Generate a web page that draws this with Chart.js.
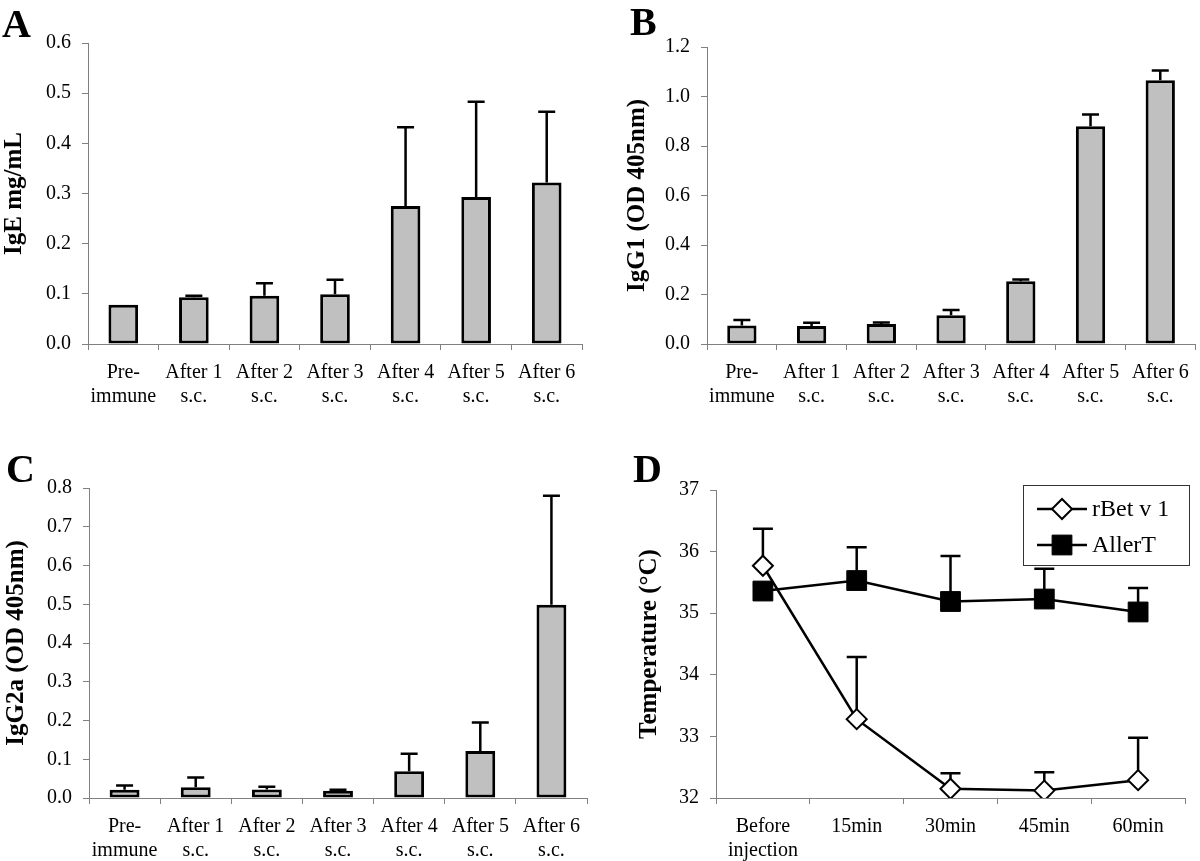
<!DOCTYPE html>
<html><head><meta charset="utf-8">
<script src="https://cdn.jsdelivr.net/npm/chart.js@4.4.1/dist/chart.umd.min.js"></script>
<style>
html,body{margin:0;padding:0;background:#fff}
body{width:1200px;height:861px;position:relative;overflow:hidden;font-family:'Liberation Serif','Times New Roman',serif}
canvas{position:absolute}
.lbl{position:absolute;font-weight:bold;font-size:40px;line-height:40px;color:#000;font-family:'Liberation Serif','Times New Roman',serif}
</style></head><body>
<canvas id="cA" width="600" height="430" style="left:0;top:0"></canvas>
<canvas id="cB" width="600" height="430" style="left:600px;top:0"></canvas>
<canvas id="cC" width="600" height="431" style="left:0;top:430px"></canvas>
<canvas id="cD" width="600" height="431" style="left:600px;top:430px"></canvas>
<div class="lbl" style="left:2px;top:4px">A</div>
<div class="lbl" style="left:630px;top:2px">B</div>
<div class="lbl" style="left:6px;top:449px">C</div>
<div class="lbl" style="left:633px;top:449px">D</div>
<script>
// ---- data ----
const immunizationLabels = [['Pre-','immune'],['After 1','s.c.'],['After 2','s.c.'],['After 3','s.c.'],['After 4','s.c.'],['After 5','s.c.'],['After 6','s.c.']];
const igeValues  = [0.078, 0.093, 0.096, 0.099, 0.275, 0.293, 0.322];
const igeErrors  = [0.000, 0.003, 0.025, 0.029, 0.157, 0.190, 0.141];
const igg1Values = [0.075, 0.073, 0.081, 0.116, 0.254, 0.880, 1.066];
const igg1Errors = [0.022, 0.013, 0.006, 0.021, 0.007, 0.047, 0.039];
const igg2aValues = [0.021, 0.028, 0.022, 0.019, 0.069, 0.121, 0.499];
const igg2aErrors = [0.011, 0.025, 0.007, 0.002, 0.045, 0.074, 0.281];
const timeLabels = [['Before','injection'],'15min','30min','45min','60min'];
const rbetValues  = [35.77, 33.28, 32.15, 32.12, 32.29];
const rbetErrors  = [0.60, 1.01, 0.25, 0.30, 0.69];
const allertValues = [35.36, 35.53, 35.19, 35.23, 35.02];
const allertErrors = [0.10, 0.54, 0.74, 0.49, 0.39];
const seriesNames = ['rBet v 1', 'AllerT'];

const FAMILY = "'Liberation Serif','Times New Roman',serif";
const tickFont = {family: FAMILY, size: 20};
const titleFont = {family: FAMILY, size: 25, weight: 'bold'};
const AXIS = '#808080';

const errorBars = {
  id: 'errorBars',
  beforeDatasetsDraw(chart, args, opts) {
    const ctx = chart.ctx, ys = chart.scales.y;
    ctx.save();
    ctx.strokeStyle = '#000';
    ctx.lineWidth = 2.5;
    chart.data.datasets.forEach((ds, di) => {
      if (!ds.errors) return;
      const meta = chart.getDatasetMeta(di);
      ds.data.forEach((v, i) => {
        const e = ds.errors[i];
        if (!e) return;
        const x = meta.data[i].x;
        const y0 = ys.getPixelForValue(v), y1 = ys.getPixelForValue(v + e);
        const c = opts.cap / 2;
        ctx.beginPath();
        ctx.moveTo(x, y0); ctx.lineTo(x, y1);
        ctx.moveTo(x - c, y1); ctx.lineTo(x + c, y1);
        ctx.stroke();
      });
    });
    ctx.restore();
  }
};

function axisCommon() {
  return {
    grid: {display: true, drawOnChartArea: false, drawTicks: true, tickLength: 6, color: AXIS, lineWidth: 1},
    border: {display: true, color: AXIS, width: 1},
  };
}

function barChart(id, values, errors, yMax, step, title, g) {
  const xa = axisCommon(), ya = axisCommon();
  xa.grid.offset = true;
  return new Chart(document.getElementById(id), {
    type: 'bar',
    data: {labels: immunizationLabels, datasets: [{
      data: values, errors: errors,
      backgroundColor: '#c0c0c0', borderColor: '#000', borderWidth: 3, borderSkipped: false,
      barPercentage: 0.42, categoryPercentage: 1
    }]},
    options: {
      responsive: false, animation: false, devicePixelRatio: 1,
      layout: {padding: {left: 0, right: g.r, top: g.t, bottom: 0}},
      plugins: {legend: {display: false}, tooltip: {enabled: false}, errorBars: {cap: 17}},
      scales: {
        x: Object.assign(xa, {
          ticks: {color: '#000', font: tickFont, padding: 11, autoSkip: false, maxRotation: 0, minRotation: 0},
          afterFit(s) { s.height = g.xh; }
        }),
        y: Object.assign(ya, {
          min: 0, max: yMax,
          ticks: {color: '#000', font: tickFont, padding: 11, stepSize: step, callback: v => Number(v).toFixed(1)},
          title: {display: true, text: title, color: '#000', font: titleFont, padding: {top: g.tp, bottom: 0}},
          afterFit(s) { s.width = g.yw; }
        })
      }
    },
    plugins: [errorBars]
  });
}

barChart('cA', igeValues, igeErrors, 0.6, 0.1, 'IgE mg/mL', {r: 18, t: 43, xh: 86, yw: 88, tp: 0});
barChart('cB', igg1Values, igg1Errors, 1.2, 0.2, 'IgG1 (OD 405nm)', {r: 2, t: 47, xh: 86, yw: 107, tp: 23});
barChart('cC', igg2aValues, igg2aErrors, 0.8, 0.1, 'IgG2a (OD 405nm)', {r: 13, t: 58, xh: 63, yw: 89, tp: 2});

const boxLegend = {
  id: 'boxLegend',
  afterDraw(chart, args, o) {
    const ctx = chart.ctx;
    ctx.save();
    ctx.strokeStyle = '#333'; ctx.lineWidth = 1;
    ctx.strokeRect(o.x + 0.5, o.y + 0.5, o.w, o.h);
    chart.data.datasets.forEach((ds, i) => {
      const cy = o.y + o.row0 + i * o.rowGap;
      ctx.strokeStyle = '#000'; ctx.lineWidth = 2.5;
      ctx.beginPath(); ctx.moveTo(o.x + o.l0, cy); ctx.lineTo(o.x + o.l1, cy); ctx.stroke();
      ctx.fillStyle = ds.pointBackgroundColor; ctx.strokeStyle = '#000'; ctx.lineWidth = ds.pointBorderWidth;
      Chart.helpers.drawPoint(ctx, {pointStyle: ds.pointStyle, radius: ds.pointRadius, rotation: 0, borderWidth: ds.pointBorderWidth}, o.x + (o.l0 + o.l1) / 2, cy);
      ctx.fillStyle = '#000';
      ctx.font = "24px " + FAMILY;
      ctx.textBaseline = 'middle'; ctx.textAlign = 'left';
      ctx.fillText(ds.label, o.x + o.tx, cy + 1);
    });
    ctx.restore();
  }
};

(function () {
  const xa = axisCommon(), ya = axisCommon();
  xa.grid.offset = true;
  new Chart(document.getElementById('cD'), {
    type: 'line',
    data: {labels: timeLabels, datasets: [
      {label: seriesNames[0], data: rbetValues, errors: rbetErrors, borderColor: '#000', borderWidth: 2.5, tension: 0,
       pointStyle: 'rectRot', pointRadius: 10, pointBackgroundColor: '#fff', pointBorderColor: '#000', pointBorderWidth: 2},
      {label: seriesNames[1], data: allertValues, errors: allertErrors, borderColor: '#000', borderWidth: 2.5, tension: 0,
       pointStyle: 'rect', pointRadius: 14, pointBackgroundColor: '#000', pointBorderColor: '#000', pointBorderWidth: 1}
    ]},
    options: {
      responsive: false, animation: false, devicePixelRatio: 1,
      layout: {padding: {left: 0, right: 9, top: 60, bottom: 0}},
      plugins: {legend: {display: false}, tooltip: {enabled: false}, errorBars: {cap: 20},
        boxLegend: {x: 423, y: 55, w: 166, h: 80, row0: 24, rowGap: 36, l0: 14, l1: 64, tx: 69}},
      scales: {
        x: Object.assign(xa, {
          offset: true,
          ticks: {color: '#000', font: tickFont, padding: 11, autoSkip: false, maxRotation: 0, minRotation: 0},
          afterFit(s) { s.height = 63; }
        }),
        y: Object.assign(ya, {
          min: 32, max: 37,
          ticks: {color: '#000', font: tickFont, padding: 11, stepSize: 1},
          title: {display: true, text: 'Temperature (°C)', color: '#000', font: titleFont, padding: {top: 35, bottom: 0}},
          afterFit(s) { s.width = 116; }
        })
      }
    },
    plugins: [errorBars, boxLegend]
  });
})();
</script>
</body></html>
